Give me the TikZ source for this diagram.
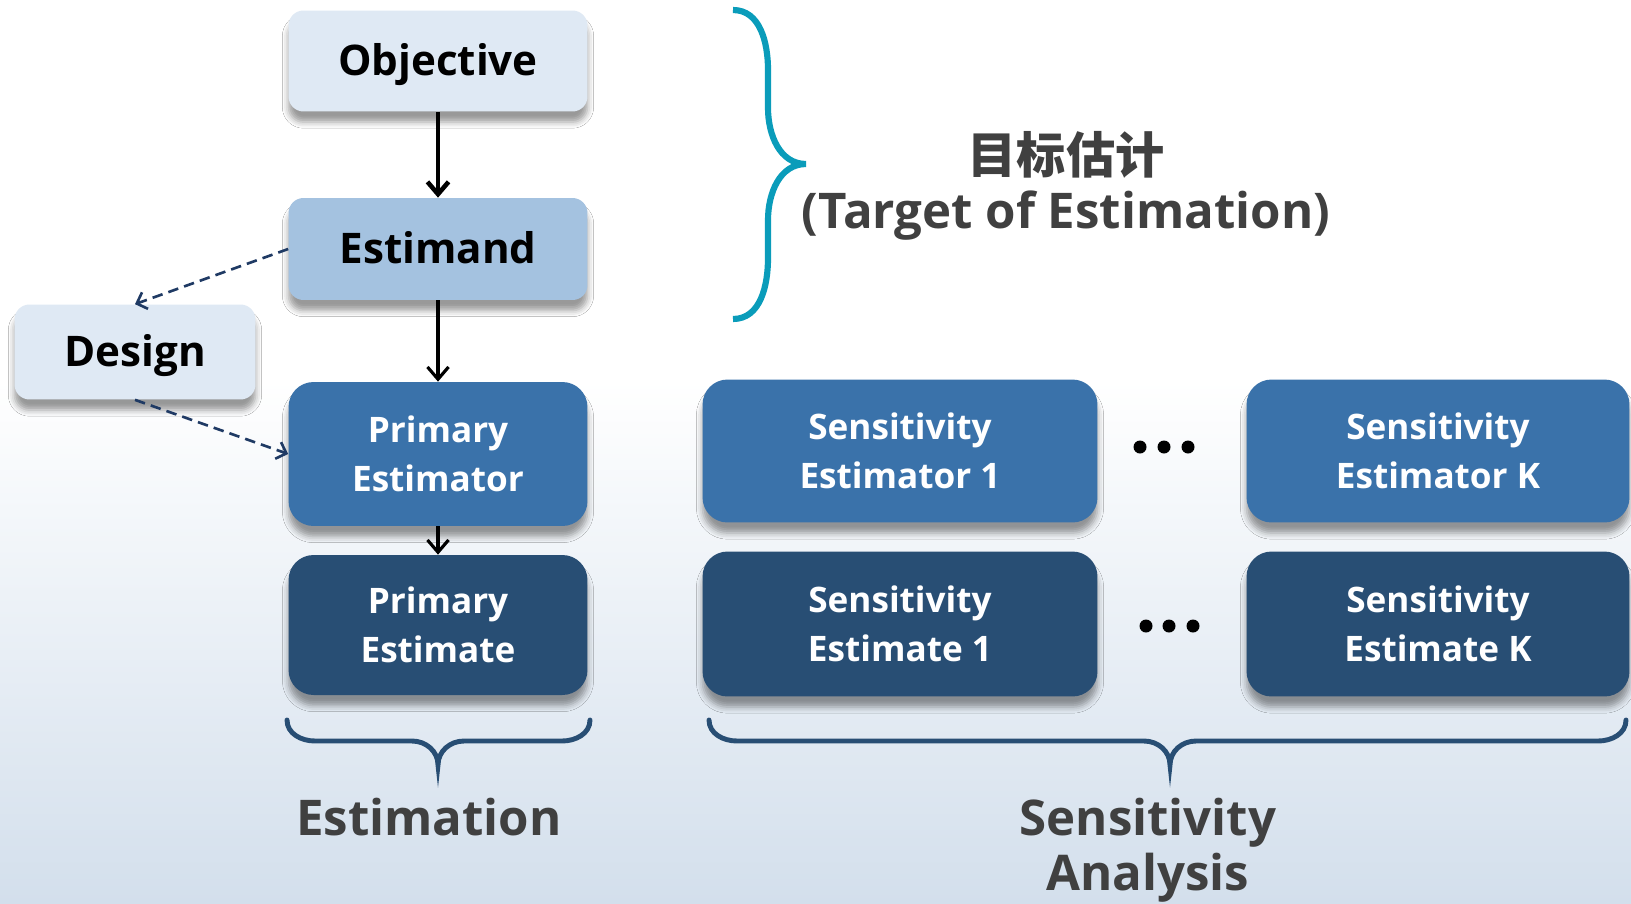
\documentclass[tikz,border=0pt]{standalone}
\usepackage{fontspec}
\setmainfont{Open Sans}
\newfontfamily\cjk{Noto Sans CJK SC}
\usepackage{xcolor}
\usetikzlibrary{arrows.meta,shadows.blur}

\definecolor{paleblue}{HTML}{DFE9F4}
\definecolor{midblue}{HTML}{A4C2E0}
\definecolor{estblue}{HTML}{3A72AA}
\definecolor{darkblue}{HTML}{284E74}
\definecolor{bracecyan}{HTML}{0A9CBA}
\definecolor{labelgray}{HTML}{404040}
\definecolor{dashblue}{HTML}{1F3A64}
\definecolor{bgbottom}{HTML}{D3DFEC}

\tikzset{
  shadowed/.style={blur shadow={shadow xshift=0pt,shadow yshift=-6pt,shadow blur radius=3.5pt,shadow opacity=40}},
  topbox/.style={shadowed,fill=paleblue,rounded corners=0.3cm,minimum width=5.98cm,minimum height=2.02cm,text height=17pt,text depth=0pt,font=\fontsize{24}{28}\selectfont\bfseries},
  estbox/.style={shadowed,rounded corners=0.5cm,text=white,align=center,minimum height=2.86cm,font=\fontsize{20}{28}\selectfont\bfseries},
  flow/.style={-{Straight Barb[length=7pt,width=12pt]},line width=1.8pt},
  link/.style={-{Straight Barb[length=5pt,width=10pt]},dashblue,line width=1.5pt,dash pattern=on 6pt off 3.5pt},
  grp/.style={labelgray,align=center,font=\fontsize{28}{31}\selectfont\bfseries},
  curly/.style={line width=2.8pt,darkblue,line cap=round}
}

\begin{document}
\begin{tikzpicture}[x=0.02cm,y=-0.02cm]
	%background
	\useasboundingbox (0,0) rectangle (1631,903);
	\fill[white] (0,0) rectangle (1631,380);
	\shade[top color=white,bottom color=bgbottom] (0,380) rectangle (1631,903);
	
	%estimand part
	\node[topbox] (objective) at (438,61) {Objective};
	\node[topbox,fill=midblue,minimum height=2.04cm] (estimand) at (438,249) {Estimand};
	\node[topbox,minimum width=4.82cm,minimum height=1.9cm] (design) at (135,352) {Design};
	
	%primary
	\node[estbox,fill=estblue,minimum width=5.98cm,minimum height=2.88cm] (pestimator) at (438,454) {Primary\\Estimator};
	\node[estbox,fill=darkblue,minimum width=5.98cm,minimum height=2.8cm] (pestimate) at (438,625) {Primary\\Estimate};
	
	%sensitivity
	\node[estbox,fill=estblue,minimum width=7.9cm] (sestimator1) at (900,451) {Sensitivity\\Estimator 1};
	\node[estbox,fill=estblue,minimum width=7.66cm] (sestimatorK) at (1438,451) {Sensitivity\\Estimator K};
	\node[estbox,fill=darkblue,minimum width=7.9cm,minimum height=2.9cm] (sestimate1) at (900,624) {Sensitivity\\Estimate 1};
	\node[estbox,fill=darkblue,minimum width=7.66cm,minimum height=2.9cm] (sestimateK) at (1438,624) {Sensitivity\\Estimate K};
	
	%dots
	\foreach \x in {1140,1164,1188} \fill (\x,447) circle (0.13cm);
	\foreach \x in {1146,1169,1193} \fill (\x,626) circle (0.13cm);
	
	%arrows
	\draw[flow,line width=2.6pt] (objective) -- (estimand);
	\draw[flow] (estimand) -- (pestimator);
	\draw[flow] (pestimator) -- (pestimate);
	\draw[link] (estimand.west) -- (design.north);
	\draw[link] (design.south) -- (pestimator.west);
	
	%braces
	\draw[bracecyan,line width=3.5pt] (733,10) to[out=0,in=90] (768,70) -- (768,108) to[out=-90,in=180] (806,164) to[out=180,in=90] (768,220) -- (768,258) to[out=-90,in=0] (733,319);
	\draw[curly] (287,720) to[out=-90,in=180] (315,741) -- (412,741) to[out=0,in=90] (438,765) to[out=90,in=180] (464,741) -- (562,741) to[out=0,in=-90] (590,720);
	\draw[curly] (709,720) to[out=-90,in=180] (737,741) -- (1144,741) to[out=0,in=90] (1170,765) to[out=90,in=180] (1196,741) -- (1598,741) to[out=0,in=-90] (1626,720);
	
	%labels
	\node[grp] (target) at (1066,186) {{\cjk 目标估计}\\(Target of Estimation)};
	\node[grp] (estimation) at (429,817) {Estimation};
	\node[grp] (sensanalysis) at (1148,850) {Sensitivity\\Analysis};
\end{tikzpicture}
\end{document}
